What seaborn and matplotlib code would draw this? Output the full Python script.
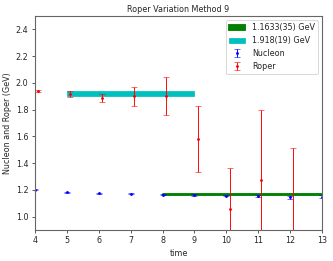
import matplotlib
matplotlib.use("Agg")
import matplotlib.pyplot as plt
import seaborn as sns
import numpy as np

# ── Data ──────────────────────────────────────────────────────────────────────
times = [4, 5, 6, 7, 8, 9, 10, 11, 12, 13]

nucleon_mass = [1.200, 1.180, 1.175, 1.170, 1.163, 1.160, 1.157, 1.155, 1.145, 1.150]
nucleon_err  = [0.004, 0.004, 0.004, 0.005, 0.005, 0.005, 0.006, 0.007, 0.012, 0.012]

roper_mass = [1.940, 1.915, 1.890, 1.900, 1.900, 1.580, 1.060, 1.270, 0.850]
roper_err  = [0.008, 0.020, 0.030, 0.070, 0.140, 0.250, 0.305, 0.530, 0.660]

nucleon_fit = 1.1633
nucleon_fit_err = 0.0035
nucleon_fit_range = [8, 13]

roper_fit = 1.918
roper_fit_err = 0.019
roper_fit_range = [5, 9]

# ── Plot ──────────────────────────────────────────────────────────────────────
sns.set_style("ticks")
plt.rcParams["font.family"] = ["DejaVu Sans"]

DPI = 67
FS = 8.6
fig = plt.figure(figsize=(333 / DPI, 261 / DPI), dpi=DPI)
ax = fig.add_axes([0.105, 0.119, 0.862, 0.820])

ax.fill_between(nucleon_fit_range,
                nucleon_fit - nucleon_fit_err, nucleon_fit + nucleon_fit_err,
                color="green", edgecolor="green", linewidth=2.0,
                label="1.1633(35) GeV")
ax.fill_between(roper_fit_range,
                roper_fit - roper_fit_err, roper_fit + roper_fit_err,
                color="c", edgecolor="c", linewidth=0.8,
                label="1.918(19) GeV")

ax.errorbar(times, nucleon_mass, yerr=nucleon_err, fmt=".", color="blue",
            ecolor="blue", capsize=3, markersize=4, elinewidth=1,
            capthick=0.6, label="Nucleon")
roper_x = np.array(times[:len(roper_mass)]) + 0.1
ax.errorbar(roper_x, roper_mass, yerr=roper_err, fmt=".", color="red",
            ecolor="red", capsize=3, markersize=4, elinewidth=1,
            capthick=0.6, label="Roper")

ax.set_xlim(4, 13)
ax.set_ylim(0.9, 2.5)
ax.set_yticks([1.0, 1.2, 1.4, 1.6, 1.8, 2.0, 2.2, 2.4])
ax.set_xticks(times)
ax.set_title("Roper Variation Method 9", fontsize=FS, pad=4)
ax.set_xlabel("time", fontsize=FS)
ax.set_ylabel("Nucleon and Roper (GeV)", fontsize=FS)
ax.tick_params(labelsize=FS)
for s in ax.spines.values():
    s.set_color("#666666")
    s.set_linewidth(1.2)

ax.legend(loc="upper right", fontsize=FS, frameon=True)

fig.savefig("out.png", dpi=DPI)
